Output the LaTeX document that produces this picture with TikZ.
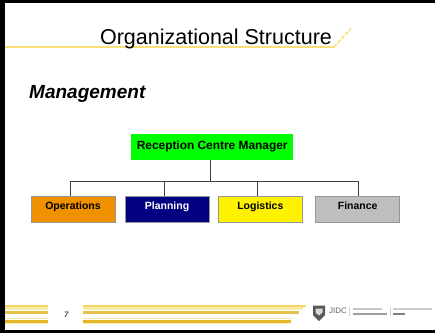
\documentclass[tikz,border=0pt]{standalone}
\usepackage{fontspec}
\setmainfont{Liberation Sans}
\definecolor{gold}{RGB}{226,182,40}
\definecolor{midg}{RGB}{244,212,100}
\definecolor{paleg}{RGB}{250,234,170}
\definecolor{ruleg}{RGB}{250,222,120}
\definecolor{boxedge}{RGB}{150,150,150}
\definecolor{opsfill}{RGB}{240,145,0}
\definecolor{planfill}{RGB}{0,0,128}
\definecolor{finfill}{RGB}{190,190,190}
\tikzset{x=1pt,y=-1pt,
 orgbox/.style={draw=boxedge,line width=1pt,minimum width=84pt,minimum height=26pt,inner sep=0pt,font=\fontsize{10.5}{12}\bfseries\selectfont,anchor=north west},
 link/.style={draw=black!75,line width=.9pt}}
\begin{document}
\begin{tikzpicture}
\useasboundingbox (0,0) rectangle (435,333);
\fill[white] (0,0) rectangle (435,333);
\fill[black] (0,0) rectangle (435,3.3);
\fill[black] (0,0) rectangle (5.2,333);
\fill[black] (0,329.5) rectangle (435,333);
% title rule
\draw[ruleg,line width=1.1pt] (5.2,47) -- (333.5,47);
\draw[ruleg,line width=1.6pt,dash pattern=on 4pt off 1.5pt] (334,47) -- (351,28.5);
\node[font=\fontsize{21.5}{24}\selectfont,anchor=base,inner sep=0pt] (title) at (216,44) {Organizational Structure};
\node[font=\fontsize{19}{22}\bfseries\itshape\selectfont,anchor=base west,inner sep=0pt] (sub) at (29,98.5) {Management};
% boxes
\node[fill=green,minimum width=162pt,minimum height=26pt,inner sep=0pt,font=\fontsize{11.9}{14}\bfseries\selectfont,anchor=north west] (mgr) at (131,134) {\raisebox{4pt}{Reception Centre Manager}};
\node[orgbox,fill=opsfill] (ops) at (30.5,195.5) {\raisebox{6pt}{Operations}};
\node[orgbox,fill=planfill,text=white] (plan) at (124.5,195.5) {\raisebox{6pt}{Planning}};
\node[orgbox,fill=yellow] (log) at (217.8,195.5) {\raisebox{6pt}{Logistics}};
\node[orgbox,fill=finfill] (fin) at (315.2,195.5) {\raisebox{6pt}{Finance}};
% connectors
\coordinate (jm) at (210.7,181);
\coordinate (jl) at (70.7,181);
\coordinate (jp) at (164,181);
\coordinate (jg) at (257.3,181);
\coordinate (jf) at (358.3,181);
\draw[link] (jm |- mgr.south) -- (jm);
\draw[link] (jl) -- (jf);
\draw[link] (jl) -- (jl |- ops.north);
\draw[link] (jp) -- (jp |- plan.north);
\draw[link] (jg) -- (jg |- log.north);
\draw[link] (jf) -- (jf |- fin.north);
% footer left
\draw[midg,line width=1.4pt] (5.2,306) -- (48,306);
\draw[paleg,line width=3pt] (5.2,308.8) -- (48,308.8);
\draw[gold!85!white,line width=2.4pt] (5.2,312.6) -- (48,312.6);
\draw[paleg,line width=1pt] (5.2,318.8) -- (48,318.8);
\draw[gold,line width=3pt] (5.2,321) -- (48,321);
\draw[paleg,line width=1pt] (5.2,323.2) -- (48,323.2);
% footer right
\draw[midg,line width=1.4pt] (83,306) -- (305.5,306);
\draw[paleg,line width=3pt] (83,308.8) -- (302.5,308.8);
\draw[gold!85!white,line width=2.4pt] (83,312.6) -- (298.5,312.6);
\draw[paleg,line width=1pt] (83,318.8) -- (292.5,318.8);
\draw[gold,line width=3pt] (83,321) -- (290.5,321);
\draw[paleg,line width=1pt] (83,323.2) -- (288,323.2);
\node[font=\fontsize{8}{9}\bfseries\itshape\selectfont,text=black!70,inner sep=0pt] (num) at (66.3,315) {7};
% logo
\fill[black!65] (313,305.5) -- (325,305.5) -- (325,315) -- (319,321) -- (313,315) -- cycle;
\fill[white!85!black] (315.5,308.5) -- (322.5,308.5) -- (322.5,312.5) -- (319,315.5) -- (315.5,312.5) -- cycle;
\node[font=\fontsize{8}{9}\selectfont,text=black!60,anchor=west,inner sep=0pt] (ridc) at (329,311) {JIDC};
\fill[black!22] (353,307.5) rectangle (382,309.5);
\fill[black!38] (353,313) rectangle (387,315);
\fill[black!20] (393,308) rectangle (432,310);
\fill[black!50] (393,313) rectangle (405,315);
\fill[black!18] (348.7,306.5) rectangle (349.7,316);
\fill[black!18] (389.5,306.5) rectangle (390.5,316);
\end{tikzpicture}
\end{document}
